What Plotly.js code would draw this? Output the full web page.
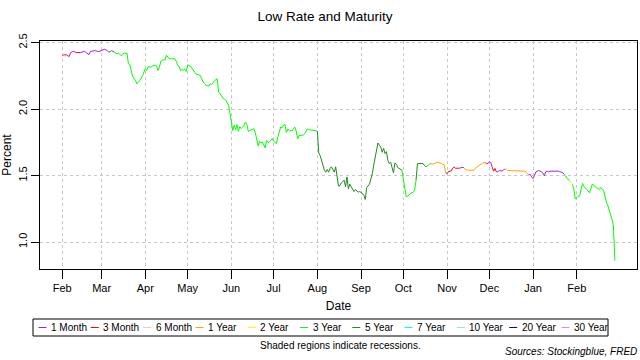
<!DOCTYPE html>
<html>
<head>
<meta charset="utf-8">
<script src="https://cdn.plot.ly/plotly-3.0.1.min.js"></script>
<style>html,body{margin:0;padding:0;background:#fff;}#chart{width:640px;height:360px;}</style>
</head>
<body>
<div id="chart"></div>
<script>
// ---- DATA ----
const maturities = ["1 Month","3 Month","6 Month","1 Year","2 Year","3 Year","5 Year","7 Year","10 Year","20 Year","30 Year"];
const maturityColors = ["#A020F0","#FF0000","#FFC0CB","#FFA500","#FFFF00","#00FF00","#228B22","#00FFFF","#ADD8E6","#0000FF","#EE82EE"];

const dates = [
"2019-02-01","2019-02-02","2019-02-04","2019-02-05","2019-02-06","2019-02-07","2019-02-09","2019-02-11","2019-02-13","2019-02-14",
"2019-02-17","2019-02-18","2019-02-20","2019-02-21","2019-02-24","2019-02-27",
"2019-03-01","2019-03-03","2019-03-05","2019-03-06","2019-03-07","2019-03-08","2019-03-10","2019-03-11","2019-03-12","2019-03-13",
"2019-03-14","2019-03-15","2019-03-16","2019-03-17","2019-03-19","2019-03-20","2019-03-21","2019-03-22","2019-03-23","2019-03-24",
"2019-03-25","2019-03-26","2019-03-27","2019-03-28","2019-03-30","2019-03-31",
"2019-04-01","2019-04-02","2019-04-03","2019-04-05","2019-04-06","2019-04-08","2019-04-09","2019-04-10","2019-04-11","2019-04-12",
"2019-04-13","2019-04-15","2019-04-16","2019-04-18","2019-04-22","2019-04-23","2019-04-24","2019-04-25","2019-04-26","2019-04-27",
"2019-04-28","2019-04-29","2019-04-30",
"2019-05-01","2019-05-03","2019-05-04","2019-05-05","2019-05-06","2019-05-07","2019-05-08","2019-05-10","2019-05-11","2019-05-12",
"2019-05-13","2019-05-14","2019-05-16","2019-05-17","2019-05-18","2019-05-19","2019-05-20","2019-05-22","2019-05-23","2019-05-24",
"2019-05-25","2019-05-26","2019-05-28","2019-05-29","2019-05-30","2019-05-31",
"2019-06-01","2019-06-02","2019-06-03","2019-06-04","2019-06-05","2019-06-06","2019-06-07","2019-06-08","2019-06-09","2019-06-10",
"2019-06-11","2019-06-12","2019-06-13","2019-06-14","2019-06-15","2019-06-17","2019-06-18","2019-06-19","2019-06-20","2019-06-21",
"2019-06-22","2019-06-23","2019-06-24","2019-06-25","2019-06-26","2019-06-27","2019-06-28","2019-06-30",
"2019-07-01","2019-07-02","2019-07-03","2019-07-04","2019-07-05","2019-07-06","2019-07-07","2019-07-08","2019-07-09","2019-07-10",
"2019-07-11","2019-07-12","2019-07-14","2019-07-15","2019-07-16","2019-07-17","2019-07-18","2019-07-19","2019-07-20","2019-07-22",
"2019-07-23","2019-07-24","2019-07-25","2019-07-26","2019-07-28","2019-07-29","2019-07-31",
"2019-08-01","2019-08-02","2019-08-03","2019-08-04","2019-08-05","2019-08-06","2019-08-07","2019-08-08","2019-08-09","2019-08-10",
"2019-08-11","2019-08-13","2019-08-14","2019-08-15","2019-08-16","2019-08-17","2019-08-18","2019-08-20","2019-08-21","2019-08-22",
"2019-08-23","2019-08-24","2019-08-25","2019-08-26","2019-08-27","2019-08-28","2019-08-30","2019-08-31",
"2019-09-02","2019-09-03","2019-09-04","2019-09-05","2019-09-07","2019-09-08","2019-09-09","2019-09-10","2019-09-11","2019-09-12",
"2019-09-13","2019-09-14","2019-09-15","2019-09-16","2019-09-17","2019-09-18","2019-09-19","2019-09-20","2019-09-21","2019-09-22",
"2019-09-23","2019-09-24","2019-09-25","2019-09-26","2019-09-27","2019-09-28","2019-09-29","2019-09-30",
"2019-10-01","2019-10-02","2019-10-03","2019-10-05","2019-10-06","2019-10-08","2019-10-09","2019-10-10","2019-10-11","2019-10-12",
"2019-10-15","2019-10-16","2019-10-17","2019-10-18","2019-10-19","2019-10-20","2019-10-22","2019-10-24","2019-10-25","2019-10-27",
"2019-10-29","2019-10-30","2019-10-31",
"2019-11-01","2019-11-02","2019-11-04","2019-11-05","2019-11-06","2019-11-07","2019-11-09","2019-11-10","2019-11-11","2019-11-13",
"2019-11-14","2019-11-16","2019-11-18","2019-11-20","2019-11-21","2019-11-22","2019-11-24","2019-11-26","2019-11-28","2019-11-29",
"2019-11-30",
"2019-12-01","2019-12-02","2019-12-03","2019-12-04","2019-12-05","2019-12-06","2019-12-07","2019-12-08","2019-12-09","2019-12-10",
"2019-12-11","2019-12-12","2019-12-13","2019-12-14","2019-12-16","2019-12-18","2019-12-20","2019-12-21","2019-12-24","2019-12-26",
"2019-12-27","2019-12-28","2019-12-29","2019-12-30","2019-12-31",
"2020-01-01","2020-01-02","2020-01-03","2020-01-04","2020-01-05","2020-01-07","2020-01-08","2020-01-09","2020-01-10","2020-01-11",
"2020-01-12","2020-01-13","2020-01-15","2020-01-17","2020-01-19","2020-01-20","2020-01-22","2020-01-23","2020-01-24","2020-01-25",
"2020-01-27","2020-01-28","2020-01-29","2020-01-30","2020-01-31",
"2020-02-01","2020-02-02","2020-02-03","2020-02-04","2020-02-05","2020-02-06","2020-02-07","2020-02-08","2020-02-09","2020-02-10",
"2020-02-11","2020-02-12","2020-02-13","2020-02-14","2020-02-15","2020-02-16","2020-02-17","2020-02-18","2020-02-19","2020-02-20",
"2020-02-21","2020-02-22","2020-02-23","2020-02-24","2020-02-25","2020-02-26","2020-02-27","2020-02-28"
];

const rates = [
2.400,2.408,2.408,2.401,2.395,2.425,2.435,2.425,2.425,2.425,
2.435,2.425,2.410,2.432,2.440,2.432,
2.440,2.450,2.440,2.430,2.430,2.440,2.428,2.420,2.415,2.420,
2.410,2.400,2.415,2.420,2.420,2.340,2.335,2.290,2.245,2.230,
2.215,2.190,2.200,2.215,2.250,2.280,
2.305,2.290,2.320,2.315,2.323,2.330,2.325,2.290,2.315,2.360,
2.370,2.370,2.405,2.378,2.378,2.358,2.328,2.323,2.288,2.298,
2.293,2.303,2.283,
2.333,2.323,2.308,2.288,2.278,2.263,2.258,2.253,2.228,2.203,
2.193,2.178,2.173,2.190,2.183,2.203,2.213,2.228,2.128,2.115,
2.103,2.083,2.068,2.053,2.030,1.970,
1.883,1.838,1.878,1.843,1.883,1.833,1.868,1.853,1.863,1.878,
1.903,1.883,1.833,1.838,1.840,1.853,1.823,1.758,1.723,1.758,
1.743,1.753,1.728,1.708,1.763,1.748,1.753,1.778,
1.758,1.750,1.740,1.790,1.835,1.865,1.860,1.880,1.885,1.825,
1.850,1.840,1.835,1.850,1.865,1.835,1.775,1.800,1.800,1.805,
1.815,1.835,1.850,1.845,1.840,1.840,1.835,
1.835,1.670,1.650,1.615,1.590,1.540,1.525,1.545,1.525,1.555,
1.565,1.525,1.565,1.500,1.420,1.425,1.445,1.465,1.415,1.490,
1.400,1.435,1.415,1.400,1.380,1.395,1.375,1.380,
1.365,1.350,1.320,1.410,1.435,1.475,1.515,1.580,1.640,1.695,
1.745,1.728,1.715,1.675,1.705,1.665,1.680,1.615,1.590,1.600,
1.565,1.520,1.595,1.585,1.560,1.555,1.550,1.540,
1.465,1.390,1.340,1.352,1.365,1.375,1.390,1.465,1.590,1.590,
1.590,1.575,1.565,1.570,1.580,1.590,1.585,1.595,1.600,1.595,
1.585,1.580,1.520,
1.515,1.530,1.535,1.555,1.565,1.555,1.555,1.555,1.560,1.560,
1.545,1.540,1.540,1.540,1.555,1.565,1.578,1.593,1.598,1.588,
1.593,
1.603,1.598,1.563,1.533,1.553,1.528,1.528,1.538,1.538,1.533,
1.543,1.548,1.548,1.538,1.538,1.533,1.533,1.533,1.533,1.533,
1.528,1.513,1.508,1.508,1.488,
1.478,1.500,1.528,1.533,1.538,1.528,1.518,1.498,1.528,1.533,
1.528,1.533,1.533,1.538,1.533,1.528,1.523,1.508,1.498,1.478,
1.463,1.443,1.433,1.393,1.323,
1.335,1.345,1.345,1.400,1.440,1.420,1.405,1.395,1.385,1.370,
1.400,1.435,1.430,1.415,1.410,1.400,1.395,1.410,1.395,1.390,
1.340,1.300,1.275,1.240,1.215,1.170,1.120,0.860
];

// maturity with the lowest rate at each date
const lowest = [
"3 Month","3 Month","3 Month","3 Month","1 Month","1 Month","1 Month","1 Month","3 Month","3 Month",
"1 Month","1 Month","1 Month","1 Month","1 Month","1 Month",
"1 Month","1 Month","1 Month","1 Month","5 Year","5 Year","1 Month","3 Year","3 Year","3 Year",
"3 Year","3 Year","3 Year","3 Year","3 Year","3 Year","3 Year","3 Year","3 Year","3 Year",
"3 Year","3 Year","3 Year","3 Year","3 Year","3 Year",
"3 Year","3 Year","3 Year","3 Year","3 Year","3 Year","3 Year","3 Year","3 Year","3 Year",
"3 Year","3 Year","3 Year","3 Year","3 Year","3 Year","3 Year","3 Year","3 Year","3 Year",
"3 Year","3 Year","3 Year",
"3 Year","3 Year","3 Year","3 Year","3 Year","3 Year","3 Year","3 Year","3 Year","3 Year",
"3 Year","3 Year","3 Year","3 Year","3 Year","3 Year","3 Year","3 Year","3 Year","3 Year",
"3 Year","3 Year","3 Year","3 Year","3 Year","3 Year",
"3 Year","3 Year","3 Year","3 Year","3 Year","3 Year","3 Year","3 Year","3 Year","3 Year",
"3 Year","3 Year","3 Year","3 Year","3 Year","3 Year","3 Year","3 Year","3 Year","3 Year",
"3 Year","3 Year","3 Year","3 Year","3 Year","3 Year","3 Year","3 Year",
"3 Year","3 Year","3 Year","3 Year","3 Year","3 Year","3 Year","3 Year","3 Year","3 Year",
"3 Year","3 Year","3 Year","3 Year","3 Year","3 Year","3 Year","3 Year","3 Year","3 Year",
"3 Year","3 Year","3 Year","3 Year","3 Year","3 Year","3 Year",
"3 Year","5 Year","5 Year","5 Year","5 Year","5 Year","5 Year","5 Year","5 Year","5 Year",
"5 Year","5 Year","5 Year","5 Year","5 Year","5 Year","5 Year","5 Year","5 Year","5 Year",
"5 Year","5 Year","5 Year","5 Year","5 Year","5 Year","5 Year","5 Year",
"5 Year","5 Year","5 Year","5 Year","5 Year","5 Year","5 Year","5 Year","5 Year","5 Year",
"5 Year","5 Year","5 Year","5 Year","5 Year","5 Year","5 Year","5 Year","5 Year","5 Year",
"5 Year","5 Year","5 Year","5 Year","5 Year","5 Year","5 Year","5 Year",
"3 Year","3 Year","3 Year","3 Year","3 Year","3 Year","3 Year","3 Year","5 Year","5 Year",
"5 Year","5 Year","5 Year","3 Year","3 Year","3 Year","1 Year","1 Year","1 Year","1 Year",
"1 Year","1 Year","1 Year",
"5 Year","3 Month","3 Month","3 Month","1 Month","3 Month","3 Month","3 Month","1 Month","1 Month",
"1 Year","1 Year","1 Year","1 Year","1 Year","1 Year","1 Year","1 Year","1 Year","3 Month",
"3 Month",
"1 Month","1 Month","1 Month","3 Month","3 Month","3 Month","1 Month","1 Month","1 Month","1 Month",
"1 Month","1 Month","1 Year","1 Year","1 Year","1 Year","1 Year","1 Year","1 Year","1 Year",
"1 Year","1 Year","1 Year","1 Month","1 Month",
"1 Month","1 Month","1 Month","1 Month","1 Month","1 Month","1 Month","1 Month","1 Month","1 Month",
"1 Month","1 Month","1 Month","1 Month","1 Month","1 Month","1 Month","1 Month","3 Year","3 Year",
"3 Year","2 Year","2 Year","3 Year","3 Year",
"3 Year","3 Year","3 Year","3 Year","3 Year","3 Year","3 Year","3 Year","3 Year","3 Year",
"3 Year","3 Year","3 Year","3 Year","3 Year","3 Year","3 Year","3 Year","3 Year","3 Year",
"3 Year","3 Year","3 Year","3 Year","3 Year","3 Year","3 Year","3 Year"
];

const tickDates = ["2019-02-01","2019-03-01","2019-04-01","2019-05-01","2019-06-01","2019-07-01","2019-08-01","2019-09-01","2019-10-01","2019-11-01","2019-12-01","2020-01-01","2020-02-01"];
const tickLabels = ["Feb","Mar","Apr","May","Jun","Jul","Aug","Sep","Oct","Nov","Dec","Jan","Feb"];
const yTicks = [1.0, 1.5, 2.0, 2.5];
const yTickLabels = ["1.0","1.5","2.0","2.5"];

// ---- BUILD TRACES (segment i-1 -> i coloured by lowest[i]) ----
const FONT = "Liberation Sans, Arial, Helvetica, sans-serif";
const segs = {};
maturities.forEach(m => segs[m] = {x: [], y: [], last: -2});
for (let i = 1; i < dates.length; i++) {
  const s = segs[lowest[i]];
  if (s.last === i - 1) {
    s.x.push(dates[i]); s.y.push(rates[i]);
  } else {
    if (s.x.length) { s.x.push(null); s.y.push(null); }
    s.x.push(dates[i-1], dates[i]); s.y.push(rates[i-1], rates[i]);
  }
  s.last = i;
}
const traces = maturities.map((m, k) => ({
  type: "scatter", mode: "lines", name: m,
  x: segs[m].x, y: segs[m].y,
  line: {color: maturityColors[k], width: 1},
  connectgaps: false, showlegend: false, hoverinfo: "skip"
}));

// ---- LAYOUT ----
const W = 640, H = 360, ML = 40, MR = 3, MT = 41, MB = 91;
const PW = W - ML - MR, PH = H - MT - MB;
const px = x => (x - ML) / PW;
const py = y => (H - MB - y) / PH;

const shapes = [];
const annotations = [];
// legend box
shapes.push({type: "rect", xref: "paper", yref: "paper", x0: px(33), x1: px(608), y0: py(336), y1: py(319), line: {color: "#000", width: 1}, fillcolor: "rgba(0,0,0,0)"});
const legStep = 52.3, legLine0 = 38.5, legY = 327.5;
maturities.forEach((m, k) => {
  const lx = legLine0 + k * legStep;
  shapes.push({type: "line", xref: "paper", yref: "paper", x0: px(lx), x1: px(lx + 8), y0: py(legY), y1: py(legY), line: {color: maturityColors[k], width: 1}});
  annotations.push({xref: "paper", yref: "paper", x: px(lx + 10.5), y: py(legY), xanchor: "left", yanchor: "middle", text: m, showarrow: false, font: {family: FONT, size: 10, color: "#000"}});
});
annotations.push({xref: "paper", yref: "paper", x: px(340), y: py(345.5), xanchor: "center", yanchor: "middle", text: "Shaded regions indicate recessions.", showarrow: false, font: {family: FONT, size: 10, color: "#000"}});
annotations.push({xref: "paper", yref: "paper", x: px(639), y: py(351.5), xanchor: "right", yanchor: "middle", text: "<i>Sources: Stockingblue, FRED</i>", showarrow: false, font: {family: FONT, size: 10, color: "#000"}});

const layout = {
  width: W, height: H,
  margin: {l: ML, r: MR, t: MT, b: MB, pad: 0},
  paper_bgcolor: "#fff", plot_bgcolor: "#fff",
  font: {family: FONT, color: "#000", size: 11},
  showlegend: false,
  title: {text: "Low Rate and Maturity", font: {family: FONT, size: 13.5, color: "#000"}, x: 325/640, xanchor: "center", y: 1 - 16/360, yanchor: "middle"},
  xaxis: {
    type: "date", range: ["2019-01-16 07:00", "2020-03-14 17:00"],
    tickmode: "array", tickvals: tickDates, ticktext: tickLabels,
    ticks: "outside", ticklen: 9, tickwidth: 1, tickcolor: "#000",
    tickfont: {family: FONT, size: 11, color: "#000"},
    showline: true, mirror: true, linecolor: "#000", linewidth: 1,
    showgrid: true, gridcolor: "#c8c8c8", griddash: "dot", gridwidth: 1,
    zeroline: false, automargin: false,
    title: {text: "Date", font: {family: FONT, size: 12, color: "#000"}, standoff: 8}
  },
  yaxis: {
    range: [0.797, 2.512],
    tickmode: "array", tickvals: yTicks, ticktext: yTickLabels, tickangle: -90,
    ticks: "outside", ticklen: 8, tickwidth: 1, tickcolor: "#000",
    tickfont: {family: FONT, size: 11, color: "#000"},
    showline: true, mirror: true, linecolor: "#000", linewidth: 1,
    showgrid: true, gridcolor: "#c8c8c8", griddash: "dot", gridwidth: 1,
    zeroline: false, automargin: false,
    title: {text: "Percent", font: {family: FONT, size: 12, color: "#000"}, standoff: 4}
  },
  shapes: shapes,
  annotations: annotations
};

Plotly.newPlot("chart", traces, layout, {staticPlot: true, displayModeBar: false});
</script>
</body>
</html>
